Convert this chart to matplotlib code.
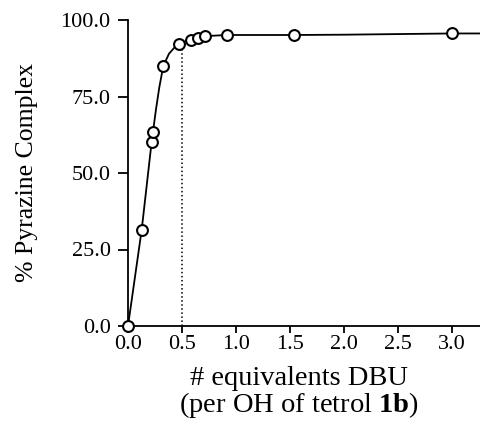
import matplotlib
matplotlib.use("Agg")
import matplotlib.pyplot as plt

# measured points (equiv DBU per OH, % pyrazine complex)
equiv = [0.0, 0.127, 0.22, 0.235, 0.327, 0.47, 0.584, 0.65, 0.714, 0.915, 1.54, 3.0]
pct = [0.0, 31.5, 60.0, 63.5, 85.0, 92.0, 93.5, 94.2, 94.8, 95.1, 95.1, 95.6]

# fitted curve
curve_x = [0.0, 0.127, 0.22, 0.26, 0.29, 0.327, 0.38, 0.43, 0.47, 0.55, 0.65,
           0.75, 0.92, 1.2, 1.54, 2.0, 2.5, 3.0, 3.27]
curve_y = [0.0, 31.5, 60.5, 71.0, 78.0, 85.0, 89.0, 91.0, 92.0, 93.3, 94.2,
           94.8, 95.1, 95.1, 95.1, 95.2, 95.4, 95.6, 95.6]

marker_x = 0.5
marker_top = 92.0

xticks = [0.0, 0.5, 1.0, 1.5, 2.0, 2.5, 3.0]
yticks = [0.0, 25.0, 50.0, 75.0, 100.0]

plt.rcParams['font.family'] = ['Liberation Serif', 'DejaVu Serif']
plt.rcParams['mathtext.fontset'] = 'custom'
plt.rcParams['mathtext.rm'] = 'Liberation Serif'
plt.rcParams['mathtext.bf'] = 'Liberation Serif:bold'

fig = plt.figure(figsize=(4.8, 4.21), dpi=100)
ax = fig.add_axes([128 / 480, 1 - 326 / 421, 352 / 480, 306 / 421])

ax.plot(curve_x, curve_y, color='black', lw=1.3, clip_on=False, zorder=2)
ax.plot(equiv, pct, linestyle='none', marker='o', ms=7.8, mfc='white',
        mec='black', mew=1.5, clip_on=False, zorder=3)
ax.vlines(marker_x, 0, marker_top, colors='black', linestyles=':', lw=1.1)

ax.set_xlim(0, 3.26)
ax.set_ylim(0, 100)
ax.set_xticks(xticks)
ax.set_xticklabels([f"{v:.1f}" for v in xticks])
ax.set_yticks(yticks)
ax.set_yticklabels([f"{v:.1f}" for v in yticks])

for s in ['top', 'right']:
    ax.spines[s].set_visible(False)
for s in ['left', 'bottom']:
    ax.spines[s].set_linewidth(1.3)

ax.tick_params(axis='x', direction='out', length=5, width=1.3, labelsize=16, pad=1.5)
ax.tick_params(axis='y', direction='out', length=7, width=1.3, labelsize=16, pad=5.5)

ax.set_xlabel("# equivalents DBU\n(per OH of tetrol $\\mathbf{1b}$)",
              fontsize=20.5, linespacing=0.95)
ax.set_ylabel("% Pyrazine Complex", fontsize=18.5)
ax.xaxis.set_label_coords(0.485, -0.13, transform=ax.transAxes)
ax.xaxis.label.set_va('top')
ax.yaxis.set_label_coords(-0.255, 0.5)

fig.savefig("out.png", dpi=100)
